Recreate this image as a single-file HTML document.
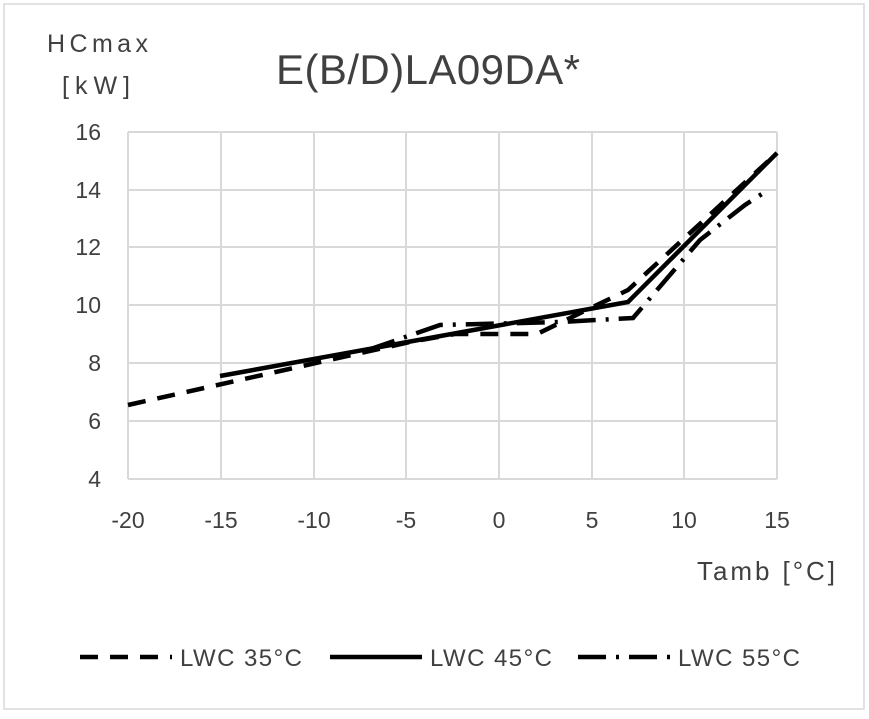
<!DOCTYPE html>
<html><head><style>body{margin:0;background:#fff}text{font-family:"Liberation Sans",sans-serif;fill:#404040}</style></head><body>
<svg width="869" height="714" xmlns="http://www.w3.org/2000/svg">
<rect x="4" y="4" width="860" height="705" fill="#fff" stroke="#d9d9d9" stroke-width="1.5"/>
<g stroke="#d9d9d9" stroke-width="2">
<line x1="128" y1="132" x2="777" y2="132"/><line x1="128" y1="190" x2="777" y2="190"/><line x1="128" y1="247" x2="777" y2="247"/><line x1="128" y1="305" x2="777" y2="305"/><line x1="128" y1="363" x2="777" y2="363"/><line x1="128" y1="421" x2="777" y2="421"/><line x1="128" y1="479" x2="777" y2="479"/>
<line x1="128" y1="132" x2="128" y2="479"/><line x1="221" y1="132" x2="221" y2="479"/><line x1="314" y1="132" x2="314" y2="479"/><line x1="406" y1="132" x2="406" y2="479"/><line x1="499" y1="132" x2="499" y2="479"/><line x1="592" y1="132" x2="592" y2="479"/><line x1="684" y1="132" x2="684" y2="479"/><line x1="777" y1="132" x2="777" y2="479"/>
</g>
<g font-size="23" text-anchor="end">
<text x="101" y="140">16</text><text x="101" y="198">14</text><text x="101" y="255">12</text><text x="101" y="313">10</text><text x="101" y="371">8</text><text x="101" y="429">6</text><text x="101" y="487">4</text></g>
<g font-size="23" text-anchor="middle">
<text x="128" y="528">-20</text><text x="221" y="528">-15</text><text x="314" y="528">-10</text><text x="406" y="528">-5</text><text x="499" y="528">0</text><text x="592" y="528">5</text><text x="684" y="528">10</text><text x="777" y="528">15</text></g>
<text x="47" y="52" font-size="25" textLength="101">HCmax</text><text x="62" y="94" font-size="25" textLength="68">[kW]</text>
<text x="276" y="84" font-size="42" textLength="304">E(B/D)LA09DA*</text>
<text x="697" y="580" font-size="26" textLength="138">Tamb [°C]</text>
<g fill="none" stroke="#000" stroke-width="4.5">
<polyline points="128,405 410,342 455,334 537,334 628,290 777,153" stroke-dasharray="18,12"/>
<polyline points="220,376 628,302 777,153"/>
<polyline points="368,350 440,325 560,322 633,318 700,240 745,205 768,190" stroke-dasharray="28,10,3,10"/>
<line x1="80" y1="657" x2="172" y2="657" stroke-dasharray="18,12"/>
<line x1="330" y1="657" x2="422" y2="657"/>
<line x1="578" y1="657" x2="670" y2="657" stroke-dasharray="28,10,3,10"/>
</g>
<g font-size="24"><text x="180" y="666" textLength="122">LWC 35°C</text><text x="430" y="666" textLength="122">LWC 45°C</text><text x="678" y="666" textLength="122">LWC 55°C</text></g>
</svg></body></html>
